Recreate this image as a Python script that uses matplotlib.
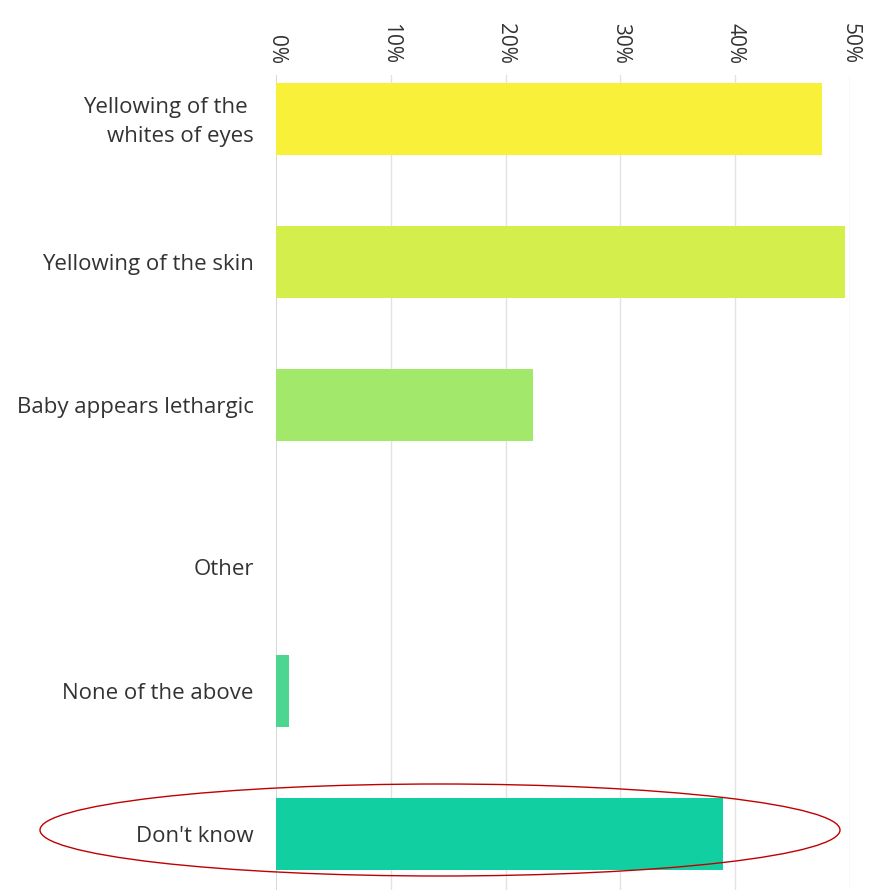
import matplotlib
matplotlib.use("Agg")
import matplotlib.pyplot as plt
import matplotlib.transforms as mtransforms
from matplotlib.patches import Ellipse

categories = ["Yellowing of the \nwhites of eyes", "Yellowing of the skin", "Baby appears lethargic",
              "Other", "None of the above", "Don't know"]
values = [47.6, 49.6, 22.4, 0.0, 1.1, 38.9]
colors = ["#F9F03A", "#D4EF4C", "#A2E86A", "#6EDC7C", "#4CD690", "#12CFA2"]
ticks = [0, 10, 20, 30, 40, 50]
tick_labels = ["0%", "10%", "20%", "30%", "40%", "50%"]

plt.rcParams['font.family'] = ['Open Sans', 'DejaVu Sans']

W, H = 877, 890
fig = plt.figure(figsize=(W / 100, H / 100), dpi=100)
ax_left, ax_right, ax_top = 276 / W, 850 / W, 75 / H
ax = fig.add_axes([ax_left, 0, ax_right - ax_left, 1 - ax_top])

y = list(range(len(categories)))
ax.barh(y, values, height=0.5, color=colors, zorder=3)

ax.set_xlim(0, 50)
ax.set_ylim((890 - 119) / 143, (75 - 119) / 143)
ax.set_xticks(ticks)
ax.set_xticklabels(tick_labels, rotation=-90, fontsize=15, color="#333333")
ax.xaxis.tick_top()
ax.tick_params(axis="x", length=0, pad=8)
ax.set_yticks(y)
ax.set_yticklabels(categories, fontsize=16, color="#333333",
                   multialignment="right", linespacing=1.5)
ax.tick_params(axis="y", length=0, pad=16)

# "Other" label sits slightly lower than its row in the reference
lbl = ax.get_yticklabels()[3]
lbl.set_transform(lbl.get_transform() + mtransforms.ScaledTranslation(0, -19 / 100, fig.dpi_scale_trans))
lbl0 = ax.get_yticklabels()[0]
lbl0.set_transform(lbl0.get_transform() + mtransforms.ScaledTranslation(0, 3 / 100, fig.dpi_scale_trans))

for s in ax.spines.values():
    s.set_visible(False)
for t in ticks:
    ax.axvline(t, color="#cfcfcf" if t == 0 else "#e2e2e2", lw=1.2 if t == 0 else 1.0, zorder=1)

ell = Ellipse((440 / W, 1 - 830 / H), 800 / W, 92 / H, transform=fig.transFigure,
              fill=False, edgecolor="#C00000", lw=1.0)
fig.add_artist(ell)

fig.savefig("out.png", dpi=100)
